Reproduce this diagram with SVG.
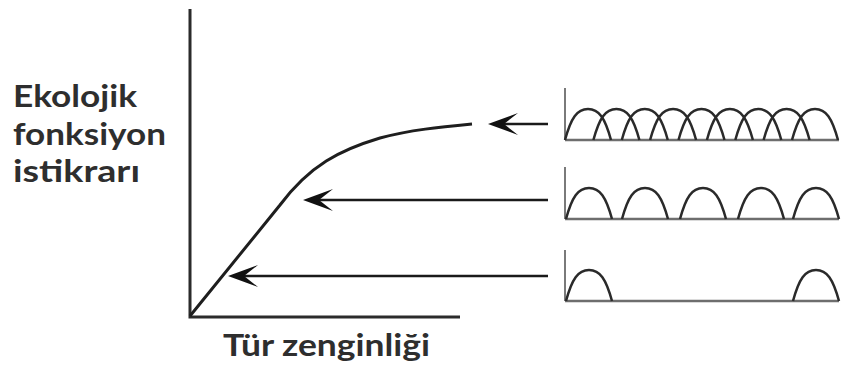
<svg xmlns="http://www.w3.org/2000/svg" width="841" height="365" viewBox="0 0 841 365">
  <style>
    .axis { stroke: #2b2b2b; stroke-width: 3; fill: none; }
    .curve { stroke: #1e1e1e; stroke-width: 3; fill: none; }
    .conn { stroke: #1a1a1a; stroke-width: 2.6; fill: none; }
    .mini-axis { stroke: #7a7a7a; stroke-width: 2; fill: none; }
    .mini-base { stroke: #6e6e6e; stroke-width: 2.5; fill: none; }
    .bump { stroke: #2a2a2a; stroke-width: 2.5; fill: none; }
    .label { font-family: Lato, "Open Sans", "Liberation Sans", sans-serif; font-weight: 700; font-size: 30px; fill: #2e2e2e; }
  </style>
  <defs>
    <path id="bump" d="M0,0 C6,-22 12,-31 23,-31 C34,-31 40,-22 46,0"/>
    <path id="head" d="M0,0 L30,-11 L16,0 L30,11 Z" fill="#111"/>
  </defs>

  <!-- main axes and response curve -->
  <g id="chart">
    <path class="axis" d="M190,9 V317 H460"/>
    <path class="curve" d="M190,316 L280,205 C310,165 340,150 380,138 C410,130 440,127 472,124"/>
  </g>

  <!-- axis titles -->
  <g id="y-label">
    <text class="label" x="13" y="107" textLength="124" lengthAdjust="spacingAndGlyphs">Ekolojik</text>
    <text class="label" x="13" y="145" textLength="153" lengthAdjust="spacingAndGlyphs">fonksiyon</text>
    <text class="label" x="13" y="182" textLength="127" lengthAdjust="spacingAndGlyphs">istikrarı</text>
  </g>
  <g id="x-label">
    <text class="label" x="223" y="356" textLength="207" lengthAdjust="spacingAndGlyphs">Tür zenginliği</text>
  </g>

  <!-- high richness: nine overlapping niches -->
  <g id="panel-high">
    <path class="mini-axis" d="M565,88 V140"/>
    <path class="mini-base" d="M565,140 H839"/>
    <g class="bump">
      <use href="#bump" x="565" y="140"/>
      <use href="#bump" x="593.4" y="140"/>
      <use href="#bump" x="621.8" y="140"/>
      <use href="#bump" x="650.1" y="140"/>
      <use href="#bump" x="678.5" y="140"/>
      <use href="#bump" x="706.9" y="140"/>
      <use href="#bump" x="735.3" y="140"/>
      <use href="#bump" x="763.6" y="140"/>
      <use href="#bump" x="792" y="140"/>
    </g>
  </g>

  <!-- medium richness: five separate niches -->
  <g id="panel-medium">
    <path class="mini-axis" d="M565,167 V219"/>
    <path class="mini-base" d="M565,219 H839"/>
    <g class="bump">
      <use href="#bump" x="566" y="219"/>
      <use href="#bump" x="622" y="219"/>
      <use href="#bump" x="680" y="219"/>
      <use href="#bump" x="738" y="219"/>
      <use href="#bump" x="793" y="219"/>
    </g>
  </g>

  <!-- low richness: two niches -->
  <g id="panel-low">
    <path class="mini-axis" d="M565,250 V301"/>
    <path class="mini-base" d="M565,301 H839"/>
    <g class="bump">
      <use href="#bump" x="566" y="301"/>
      <use href="#bump" x="793" y="301"/>
    </g>
  </g>

  <!-- connectors from each panel to the curve -->
  <g id="connectors">
    <path class="conn" d="M548,124 H500"/>
    <use href="#head" x="488" y="124"/>
    <path class="conn" d="M548,200 H315"/>
    <use href="#head" x="303" y="200"/>
    <path class="conn" d="M548,276 H240"/>
    <use href="#head" x="228" y="276"/>
  </g>
</svg>
